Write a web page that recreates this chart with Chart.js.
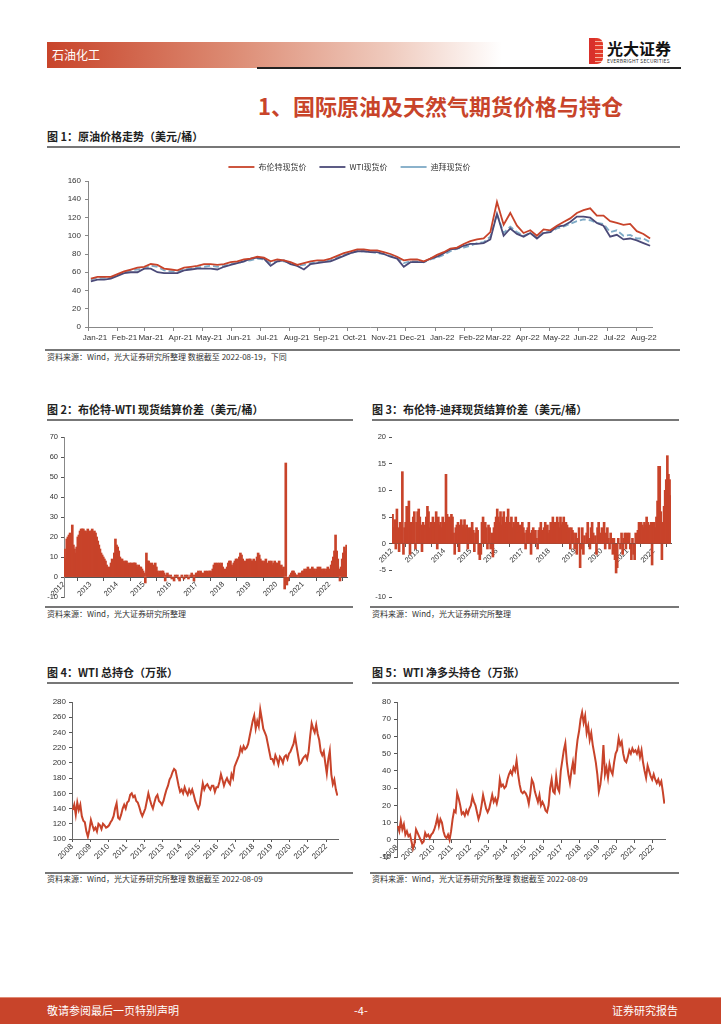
<!DOCTYPE html>
<html>
<head>
<meta charset="utf-8">
<script src="https://cdn.jsdelivr.net/npm/chart.js@4.4.0/dist/chart.umd.min.js"></script>
<style>
body{margin:0;width:724px;height:1024px;position:relative;background:#fff;overflow:hidden;
  font-family:"Noto Sans CJK SC","Liberation Sans",sans-serif;color:#222}
.a{position:absolute;white-space:nowrap;line-height:1}
.rule{position:absolute;height:1.5px;background:#777}
.ttl{font-size:11px;font-weight:bold;color:#222}
.src{font-size:8px;color:#333}
canvas{position:absolute}
</style>
</head>
<body>
<!-- header -->
<div class="a" style="left:47px;top:42px;width:455px;height:26px;background:linear-gradient(90deg,#c8442a 0%,#dc8a72 40%,#efcabd 75%,#fff 100%)"></div>
<div class="a" style="left:52px;top:49px;font-size:12px;color:#fff">石油化工</div>
<div class="a" style="left:589px;top:38px;width:14px;height:26px;background:repeating-linear-gradient(180deg,#e23b2a 0 3px,#f6b3a3 3px 4px);border-radius:0 6px 6px 0"></div>
<div class="a" style="left:589px;top:38px;width:6px;height:26px;background:#d9302a"></div>
<div class="a" style="left:607px;top:40px;font-size:16px;font-weight:bold;color:#111">光大证券</div>
<div class="a" style="left:607px;top:58px;font-size:5px;color:#333;letter-spacing:0.2px">EVERBRIGHT SECURITIES</div>
<div class="a" style="left:257px;top:67px;width:424px;height:1.5px;background:#222"></div>

<div class="a" style="left:258px;top:94px;font-size:22px;font-weight:bold;color:#c8442a">1、国际原油及天然气期货价格与持仓</div>

<!-- figure 1 -->
<div class="a ttl" style="left:47px;top:131px">图 1：原油价格走势（美元/桶）</div>
<div class="rule" style="left:47px;top:146px;width:633px"></div>
<canvas id="c1" width="633" height="197" style="left:47px;top:150px"></canvas>
<div class="rule" style="left:45px;top:349px;width:635px"></div>
<div class="a src" style="left:47px;top:353px">资料来源：Wind，光大证券研究所整理 数据截至 2022-08-19，下同</div>

<!-- figure 2 / 3 -->
<div class="a ttl" style="left:47px;top:404px">图 2：布伦特-WTI 现货结算价差（美元/桶）</div>
<div class="rule" style="left:47px;top:419px;width:306px"></div>
<canvas id="c2" width="315" height="180" style="left:40px;top:425px"></canvas>
<div class="rule" style="left:45px;top:606px;width:308px"></div>
<div class="a src" style="left:47px;top:610px">资料来源：Wind，光大证券研究所整理</div>

<div class="a ttl" style="left:372px;top:404px">图 3：布伦特-迪拜现货结算价差（美元/桶）</div>
<div class="rule" style="left:372px;top:419px;width:307px"></div>
<canvas id="c3" width="315" height="180" style="left:365px;top:425px"></canvas>
<div class="rule" style="left:370px;top:606px;width:309px"></div>
<div class="a src" style="left:372px;top:610px">资料来源：Wind，光大证券研究所整理</div>

<!-- figure 4 / 5 -->
<div class="a ttl" style="left:47px;top:667px">图 4：WTI 总持仓（万张）</div>
<div class="rule" style="left:47px;top:682px;width:306px"></div>
<canvas id="c4" width="310" height="180" style="left:40px;top:690px"></canvas>
<div class="rule" style="left:45px;top:872px;width:308px"></div>
<div class="a src" style="left:47px;top:875px">资料来源：Wind，光大证券研究所整理 数据截至 2022-08-09</div>

<div class="a ttl" style="left:372px;top:667px">图 5：WTI 净多头持仓（万张）</div>
<div class="rule" style="left:372px;top:682px;width:307px"></div>
<canvas id="c5" width="315" height="180" style="left:365px;top:690px"></canvas>
<div class="rule" style="left:370px;top:872px;width:309px"></div>
<div class="a src" style="left:372px;top:875px">资料来源：Wind，光大证券研究所整理 数据截至 2022-08-09</div>

<!-- footer -->
<div class="a" style="left:0;top:997px;width:721px;height:27px;background:#c8442a;border-top:1px solid #e08a74"></div>
<div class="a" style="left:47px;top:1005px;font-size:11px;color:#fff">敬请参阅最后一页特别声明</div>
<div class="a" style="left:354px;top:1005px;font-size:11px;color:#fff">-4-</div>
<div class="a" style="left:612px;top:1005px;font-size:11px;color:#fff">证券研究报告</div>

<script>
// ---- figure 1: weekly spot prices from 2021-01-04 ----
const c1Start = '2021-01-04';
const c1Months = ['Jan-21','Feb-21','Mar-21','Apr-21','May-21','Jun-21','Jul-21','Aug-21','Sep-21','Oct-21',
  'Nov-21','Dec-21','Jan-22','Feb-22','Mar-22','Apr-22','May-22','Jun-22','Jul-22','Aug-22'];
const brent = [53,55,55,55,58,61,63,65,66,69, 68,64,63,62,65,66,67,69,69,68,
  69,71,72,74,75,77,76,72,74,73, 71,68,70,72,73,73,75,78,81,83,
  85,85,84,84,82,80,77,73,74,74, 72,75,79,82,86,87,91,94,96,97,
  104,137,112,125,111,103,106,100,107,106, 111,115,119,125,128,130,122,122,116,114,
  112,113,105,102,97];
const wti = [50,52,52,53,56,59,60,60,64,64, 60,59,59,59,62,63,64,64,64,63,
  66,68,70,72,75,76,75,67,72,73, 69,67,63,69,70,71,72,75,78,81,
  83,83,82,82,80,77,75,66,71,71, 71,75,77,81,85,86,89,91,91,92,
  96,124,100,108,102,99,103,97,103,104, 110,111,115,121,121,120,114,111,99,101,
  96,97,95,92,89];
const dubai = [52,54,54,54,57,60,62,63,64,67, 66,62,61,61,63,64,65,66,67,66,
  67,69,70,72,73,75,74,70,72,72, 70,67,68,70,71,72,73,76,79,81,
  83,83,82,81,80,78,76,70,72,72, 71,74,76,79,83,86,87,89,92,93,
  99,124,103,110,104,100,103,98,104,104, 108,110,113,116,118,117,114,113,104,106,
  100,101,97,97,93];

// ---- figure 2/3: half-monthly spreads from 2012 ----
const spreadStart = 2012;
const spreadYears = ['2012','2013','2014','2015','2016','2017','2018','2019','2020','2021','2022'];
const brentWti = [
  14,9,19,20,21,22,17,26,16,14,12,15,20,21,23,24,24,24,23,23,22,24,22,23,
  23,24,22,23,22,20,18,16,14,12,11,10,9,8,6,5,4,5,7,9,8,12,19,16,
  15,13,10,9,9,8,7,8,8,7,6,7,7,6,7,7,7,6,5,6,5,5,4,3,
  2,-3,12,8,8,7,6,7,5,6,7,5,3,2,3,2,3,3,2,-2,1,2,1,0,
  1,-1,0,-2,1,0,1,-1,-2,0,1,0,-1,1,0,1,-1,0,1,2,1,-2,1,2,
  2,3,2,3,2,1,2,3,2,3,2,3,3,2,4,6,7,6,7,6,7,6,7,5,
  3,4,3,5,7,8,8,6,5,7,8,9,9,8,10,12,11,9,8,7,8,9,8,9,
  9,8,8,9,7,8,10,12,11,9,8,8,7,8,9,7,6,8,7,8,6,7,8,7,
  7,6,8,5,6,4,5,-6,57,-4,-2,0,1,2,3,3,2,1,1,0,2,1,2,3,
  3,4,3,4,5,4,3,4,5,4,4,3,4,5,4,5,4,3,4,4,3,4,5,3,
  4,6,8,10,13,21,13,9,4,-2,5,9,12,15,13,16];
const brentDubai = [
  5.5,3,4.5,-1,6.5,3,-1.5,4,3.5,13.5,-2,3,4,7,5,8,-2,4,3.5,5,6,-1,4,6,
  6.5,5,3.5,-1.5,4,3,3.5,5,7,6,3,4,3.5,5,3,4,6,-1,5,3.5,4,3,5,4,
  4,13,5.5,3.5,5,4.5,5.5,5,2,-2,3,3.5,4,-1.5,3.5,4.5,3,3.5,4.5,3,3.5,-1,3,2,
  3,4,2.5,-1.5,2,3,2.5,-2,-3,-2,4,5,3.5,4,3,-1,3.5,3,-1,2,-2.5,3,4,5,
  6.5,5,4,6,3.5,5,6,4,3,5,6.5,3.5,4,5,3,4,3.5,5,3,4,2,3.5,3,4,
  3,2,-1,2.5,3,4,2,-2,2.5,3,2,2.5,1,-1,2.5,3,4,2,2.5,3,4,3,3.5,2,
  2.5,4,3.5,5,3,4,3.5,5,4,3,5,3.5,4,5,3,4,3.5,2,3,-1,3,2.5,2,-1,
  2,-2,1,3,-4.5,-1,3,-2,1.5,0,2,4,1,-1,3,4,2,0,1.5,-2,3,4,2,1,
  3,0,4,-1,2,3,1,-1,2,1,-2,1,-3,-5.5,-4.5,1,0,-1,2,-2,1,2,-1,2,
  1,2,-1,-3,1,-2,-3,2,1.5,2.5,4,3.5,4,3.5,3,4,3.5,5,4,3,3.5,4,-4,4,
  4,3,5,8,14.5,14.5,6,-3,4,7,10,12,16.5,13,12,9];

// ---- figure 4/5: monthly positions from 2008 (万张) ----
const posStart = 2008;
const posYears = ['2008','2009','2010','2011','2012','2013','2014','2015','2016','2017','2018','2019','2020','2021','2022'];
const wtiOpenInt = [
  138,145,132,148,138,145,130,124,122,110,103,112,
  125,118,112,115,110,120,118,113,120,118,115,116,
  118,122,125,130,140,147,128,126,132,140,145,140,
  148,150,158,160,155,157,150,148,142,135,130,135,
  140,150,160,152,145,140,148,155,158,150,148,145,
  150,158,165,170,178,182,188,192,190,180,170,162,
  165,160,168,162,158,165,160,165,158,150,145,140,
  145,160,173,165,170,172,168,165,170,170,162,168,
  168,175,185,178,170,176,180,175,172,185,180,195,
  200,205,210,220,215,222,218,220,225,235,245,255,
  262,245,255,248,270,258,245,240,235,225,215,205,
  205,200,210,205,198,208,205,200,208,210,205,212,
  215,220,225,235,222,210,198,200,205,208,210,205,
  215,235,252,245,240,250,238,230,215,210,215,200,
  186,205,216,185,172,178,165,157];
const wtiNetLong = [
  8,5,11,6,9,3,5,2,3,-1,-5,-2,
  6,4,2,0,-2,-1,4,2,3,1,3,4,
  6,9,13,8,12,10,5,2,1,3,0,5,
  12,17,16,27,24,20,15,16,14,17,15,18,
  20,25,22,20,16,12,15,20,26,22,18,16,
  18,22,26,22,24,21,25,35,31,32,30,31,
  35,38,40,38,42,40,46,38,32,28,27,28,
  27,25,21,27,35,33,28,25,22,26,20,22,
  20,17,16,20,30,35,28,27,37,30,28,40,
  46,52,56,45,38,33,40,45,38,50,58,63,
  70,74,68,72,62,66,58,62,55,50,45,38,
  28,32,40,55,38,42,36,44,40,38,45,50,
  52,59,55,57,50,46,45,48,52,50,53,51,
  52,50,53,48,52,45,40,36,43,40,37,35,
  38,35,33,35,32,34,28,21];

const RED = '#c8432a';
const tickFont = {family: '"Liberation Sans", Arial, sans-serif', size: 8};
const cjkFont = {family: '"Noto Sans CJK SC", sans-serif', size: 8};
Chart.defaults.animation = false;
Chart.defaults.color = '#333';

// figure 1
const DAY = 86400000;
const base = Date.UTC(2021, 0, 1);
const c1x = brent.map((v, i) => (Date.parse(c1Start) - base) / DAY + 7 * i);
const monthTicks = c1Months.map((m, i) => (Date.UTC(2021, i, 1) - base) / DAY);
const pts = arr => arr.map((v, i) => ({x: c1x[i], y: v}));

new Chart(document.getElementById('c1'), {
  type: 'line',
  data: {datasets: [
    {label: '布伦特现货价', data: pts(brent), borderColor: RED, backgroundColor: RED, borderWidth: 1.8, pointRadius: 0, pointStyle: 'line'},
    {label: 'WTI现货价', data: pts(wti), borderColor: '#4b4a78', backgroundColor: '#4b4a78', borderWidth: 1.8, pointRadius: 0, pointStyle: 'line'},
    {label: '迪拜现货价', data: pts(dubai), borderColor: '#7eaac6', backgroundColor: '#7eaac6', borderWidth: 1.8, pointRadius: 0, pointStyle: 'line', borderDash: [6, 3]}
  ]},
  options: {
    responsive: false,
    layout: {padding: {right: 28, top: 0}},
    plugins: {
      legend: {labels: {usePointStyle: true, pointStyleWidth: 26, font: cjkFont, color: '#333', padding: 13}},
      tooltip: {enabled: false}
    },
    scales: {
      x: {type: 'linear', min: 0, max: 593,
        afterBuildTicks: a => { a.ticks = monthTicks.map(v => ({value: v})); },
        afterFit: s => { s.height = 20; },
        ticks: {callback: (v, i) => c1Months[i], autoSkip: false, maxRotation: 0, labelOffset: 7, font: tickFont, padding: 2},
        grid: {drawOnChartArea: false, tickLength: 4, color: '#888'},
        border: {color: '#888'}},
      y: {min: 0, max: 160,
        afterFit: s => { s.width = 41; },
        ticks: {stepSize: 20, font: tickFont, padding: 4},
        grid: {drawOnChartArea: false, tickLength: 3, color: '#888'},
        border: {color: '#888'}}
    }
  }
});

// bar charts of spreads
function spreadChart(id, values, ymin, ymax, step, yWidth, pad, showYLine) {
  const data = values.map((v, i) => ({x: spreadStart + (i + 0.5) / 24, y: v}));
  new Chart(document.getElementById(id), {
    type: 'bar',
    data: {datasets: [{data, backgroundColor: RED, borderWidth: 0, barThickness: 2}]},
    options: {
      responsive: false,
      layout: {padding: pad},
      plugins: {legend: {display: false}, tooltip: {enabled: false}},
      scales: {
        x: {type: 'linear', position: {y: 0}, min: spreadStart, max: 2022.66, offset: false,
          afterBuildTicks: a => { a.ticks = spreadYears.map(y => ({value: +y})); },
          ticks: {callback: (v, i) => spreadYears[i], autoSkip: false, minRotation: 45, maxRotation: 45, font: {family: tickFont.family, size: 7.5}, padding: 0},
          grid: {drawOnChartArea: false, tickLength: 3, color: '#555'},
          border: {color: '#555'}},
        y: {min: ymin, max: ymax,
          afterFit: s => { s.width = yWidth; },
          ticks: {stepSize: step, font: {family: tickFont.family, size: 7.5}, padding: 3},
          grid: {drawOnChartArea: false, tickLength: 3, color: '#555'},
          border: {display: showYLine, color: '#888'}}
      }
    }
  });
}
spreadChart('c2', brentWti, -10, 70, 10, 24, {top: 12, right: 8, bottom: 8}, true);
spreadChart('c3', brentDubai, -10, 20, 5, 27, {top: 12, right: 9, bottom: 8}, false);

// position line charts
function posChart(id, values, ymin, ymax, step, axisAtZero, pad) {
  const data = values.map((v, i) => ({x: posStart + (i + 0.5) / 12, y: v}));
  new Chart(document.getElementById(id), {
    type: 'line',
    data: {datasets: [{data, borderColor: RED, borderWidth: 2, pointRadius: 0, tension: 0}]},
    options: {
      responsive: false,
      layout: {padding: pad},
      plugins: {legend: {display: false}, tooltip: {enabled: false}},
      scales: {
        x: {type: 'linear', position: axisAtZero ? {y: 0} : 'bottom', min: posStart, max: 2022.66,
          afterBuildTicks: a => { a.ticks = posYears.map(y => ({value: +y})); },
          afterFit: s => { if (!axisAtZero) s.height = 31; },
          ticks: {callback: (v, i) => posYears[i], autoSkip: false, minRotation: 45, maxRotation: 45, font: tickFont, padding: 0},
          grid: {drawOnChartArea: false, tickLength: 3, color: '#555'},
          border: {color: '#666'}},
        y: {min: ymin, max: ymax,
          afterFit: s => { s.width = 32; },
          ticks: {stepSize: step, font: tickFont, padding: 3},
          grid: {drawOnChartArea: false, tickLength: 3, color: '#555'},
          border: {color: '#666'}}
      }
    }
  });
}
posChart('c4', wtiOpenInt, 100, 280, 20, false, {top: 12, right: 12});
posChart('c5', wtiNetLong, -10, 80, 10, true, {top: 12, right: 15, bottom: 13});
</script>
</body>
</html>
